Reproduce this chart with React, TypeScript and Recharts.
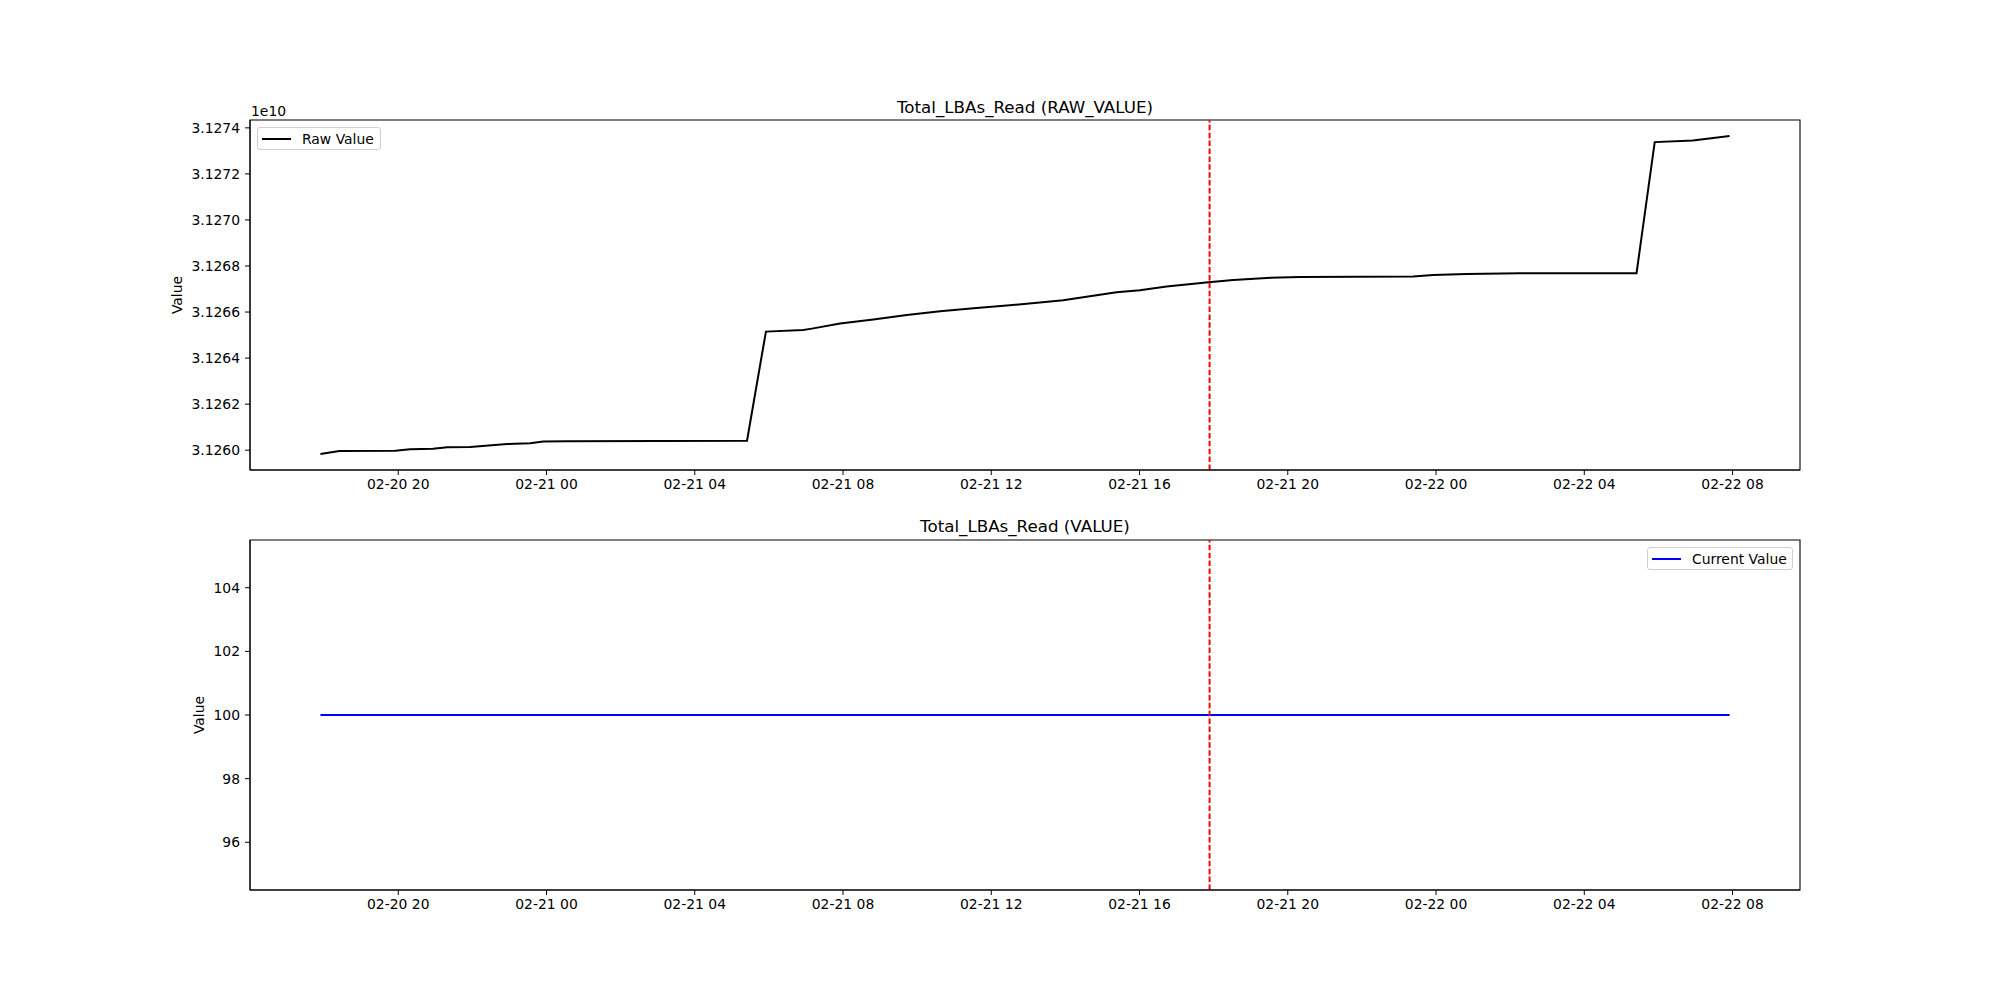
import {
  LineChart, Line, XAxis, YAxis, ReferenceLine, ReferenceArea, Legend, Label
} from 'recharts'

// hours since 02-20 00:00
const hours = [
  17.90, 18.41, 19.92, 20.32, 20.94, 21.32, 21.94, 22.94, 23.56, 23.91,
  24.56, 29.41, 29.92, 30.93, 31.16, 31.92, 32.82, 33.72, 34.62, 35.52,
  36.42, 37.31, 37.94, 38.66, 39.38, 40.01, 40.73, 41.86, 42.53, 43.43,
  44.33, 47.38, 47.92, 48.82, 50.26, 53.41, 53.90, 54.93, 55.92,
]
const rawValues = [
  31259830000, 31259960000, 31259970000, 31260040000, 31260060000, 31260130000, 31260140000, 31260270000, 31260300000, 31260380000,
  31260390000, 31260410000, 31265150000, 31265220000, 31265280000, 31265500000, 31265680000, 31265870000, 31266030000, 31266160000,
  31266280000, 31266410000, 31266510000, 31266690000, 31266860000, 31266950000, 31267110000, 31267290000, 31267390000, 31267480000,
  31267520000, 31267540000, 31267610000, 31267650000, 31267690000, 31267690000, 31273380000, 31273450000, 31273650000,
]
const currentHours = [17.90, 55.92]
const currentValues = [100, 100]

const xTicks = [20, 24, 28, 32, 36, 40, 44, 48, 52, 56]
const rawTicks = [31260000000, 31262000000, 31264000000, 31266000000, 31268000000, 31270000000, 31272000000, 31274000000]
const currentTicks = [96, 98, 100, 102, 104]
const markerHour = 41.89

const rawData = hours.map((t, i) => ({ t, raw: rawValues[i] }))
const currentData = currentHours.map((t, i) => ({ t, value: currentValues[i] }))

const X_DOMAIN: [number, number] = [16.0, 57.82]
const RAW_DOMAIN: [number, number] = [31259139000, 31274341000]
const CUR_DOMAIN: [number, number] = [94.5, 105.5]

const FONT = '"DejaVu Sans", sans-serif'
const tickStyle = { fontSize: 13.9, fill: '#000', fontFamily: FONT }

const fmtHour = (h: number) => {
  const day = 20 + Math.floor(h / 24)
  const hr = Math.round(h % 24)
  return `02-${day} ${String(hr).padStart(2, '0')}`
}

function LegendBox({ color, label, width }: { color: string; label: string; width: number }) {
  return (
    <div style={{
      width, height: 23, boxSizing: 'border-box', border: '1px solid #d0d0d0', borderRadius: 3,
      background: 'rgba(255,255,255,0.8)', display: 'flex', alignItems: 'center',
      fontFamily: FONT, fontSize: 13.9, color: '#000',
    }}>
      <svg width={40} height={10} style={{ marginLeft: 4 }}>
        <line x1={0} y1={5} x2={29} y2={5} stroke={color} strokeWidth={2} />
      </svg>
      <span>{label}</span>
    </div>
  )
}

const titleStyle = {
  position: 'absolute' as const, left: 250, width: 1550, textAlign: 'center' as const,
  fontFamily: FONT, fontSize: 16.7, lineHeight: '20px', color: '#000',
}

export default function App() {
  return (
    <div style={{ position: 'absolute', left: 0, top: 0, width: 2000, height: 1000, background: '#fff' }}>
      <div style={{ ...titleStyle, top: 97 }}>Total_LBAs_Read (RAW_VALUE)</div>
      <div style={{ ...titleStyle, top: 516 }}>Total_LBAs_Read (VALUE)</div>
      <div style={{ position: 'absolute', left: 251, top: 103, fontFamily: FONT, fontSize: 13.9, lineHeight: '16px' }}>1e10</div>

      <div style={{ position: 'absolute', left: 0, top: 0 }}>
        <LineChart width={2000} height={500} data={rawData} margin={{ top: 120, right: 200, left: 104, bottom: 0 }}>
          <XAxis
            dataKey="t" type="number" domain={X_DOMAIN} ticks={xTicks} allowDataOverflow
            tickFormatter={fmtHour} tick={tickStyle} height={30} tickSize={5} tickMargin={4}
            stroke="#000"
          />
          <YAxis
            type="number" domain={RAW_DOMAIN} ticks={rawTicks} allowDataOverflow
            tickFormatter={(v: number) => (v / 1e10).toFixed(4)} tick={tickStyle}
            width={146} tickSize={5} tickMargin={5} stroke="#000"
          >
            <Label value="Value" angle={-90} position="center" style={{ fontSize: 13.9, fill: '#000', fontFamily: FONT }} />
          </YAxis>
          <ReferenceArea x1={X_DOMAIN[0]} x2={X_DOMAIN[1]} y1={RAW_DOMAIN[0]} y2={RAW_DOMAIN[1]} fill="none" stroke="#000" strokeWidth={1.1} fillOpacity={0} />
          <Line type="linear" dataKey="raw" stroke="#000" strokeWidth={2} dot={false} isAnimationActive={false} name="Raw Value" />
          <ReferenceLine x={markerHour} stroke="#ff0000" strokeWidth={2} strokeDasharray="5.5 2.4" />
          <Legend
            layout="horizontal" verticalAlign="middle" align="center"
            wrapperStyle={{ left: 257, top: 127, width: 124 }}
            content={() => <LegendBox color="#000" label="Raw Value" width={124} />}
          />
        </LineChart>
      </div>

      <div style={{ position: 'absolute', left: 0, top: 500 }}>
        <LineChart width={2000} height={500} data={currentData} margin={{ top: 40, right: 200, left: 148, bottom: 80 }}>
          <XAxis
            dataKey="t" type="number" domain={X_DOMAIN} ticks={xTicks} allowDataOverflow
            tickFormatter={fmtHour} tick={tickStyle} height={30} tickSize={5} tickMargin={4}
            stroke="#000"
          />
          <YAxis
            type="number" domain={CUR_DOMAIN} ticks={currentTicks} allowDataOverflow
            tick={tickStyle} width={102} tickSize={5} tickMargin={5} stroke="#000"
          >
            <Label value="Value" angle={-90} position="center" style={{ fontSize: 13.9, fill: '#000', fontFamily: FONT }} />
          </YAxis>
          <ReferenceArea x1={X_DOMAIN[0]} x2={X_DOMAIN[1]} y1={CUR_DOMAIN[0]} y2={CUR_DOMAIN[1]} fill="none" stroke="#000" strokeWidth={1.1} fillOpacity={0} />
          <Line type="linear" dataKey="value" stroke="#0000ff" strokeWidth={2} dot={false} isAnimationActive={false} name="Current Value" />
          <ReferenceLine x={markerHour} stroke="#ff0000" strokeWidth={2} strokeDasharray="5.5 2.4" />
          <Legend
            layout="horizontal" verticalAlign="middle" align="center"
            wrapperStyle={{ left: 1647, top: 47, width: 146 }}
            content={() => <LegendBox color="#0000ff" label="Current Value" width={146} />}
          />
        </LineChart>
      </div>
    </div>
  )
}
